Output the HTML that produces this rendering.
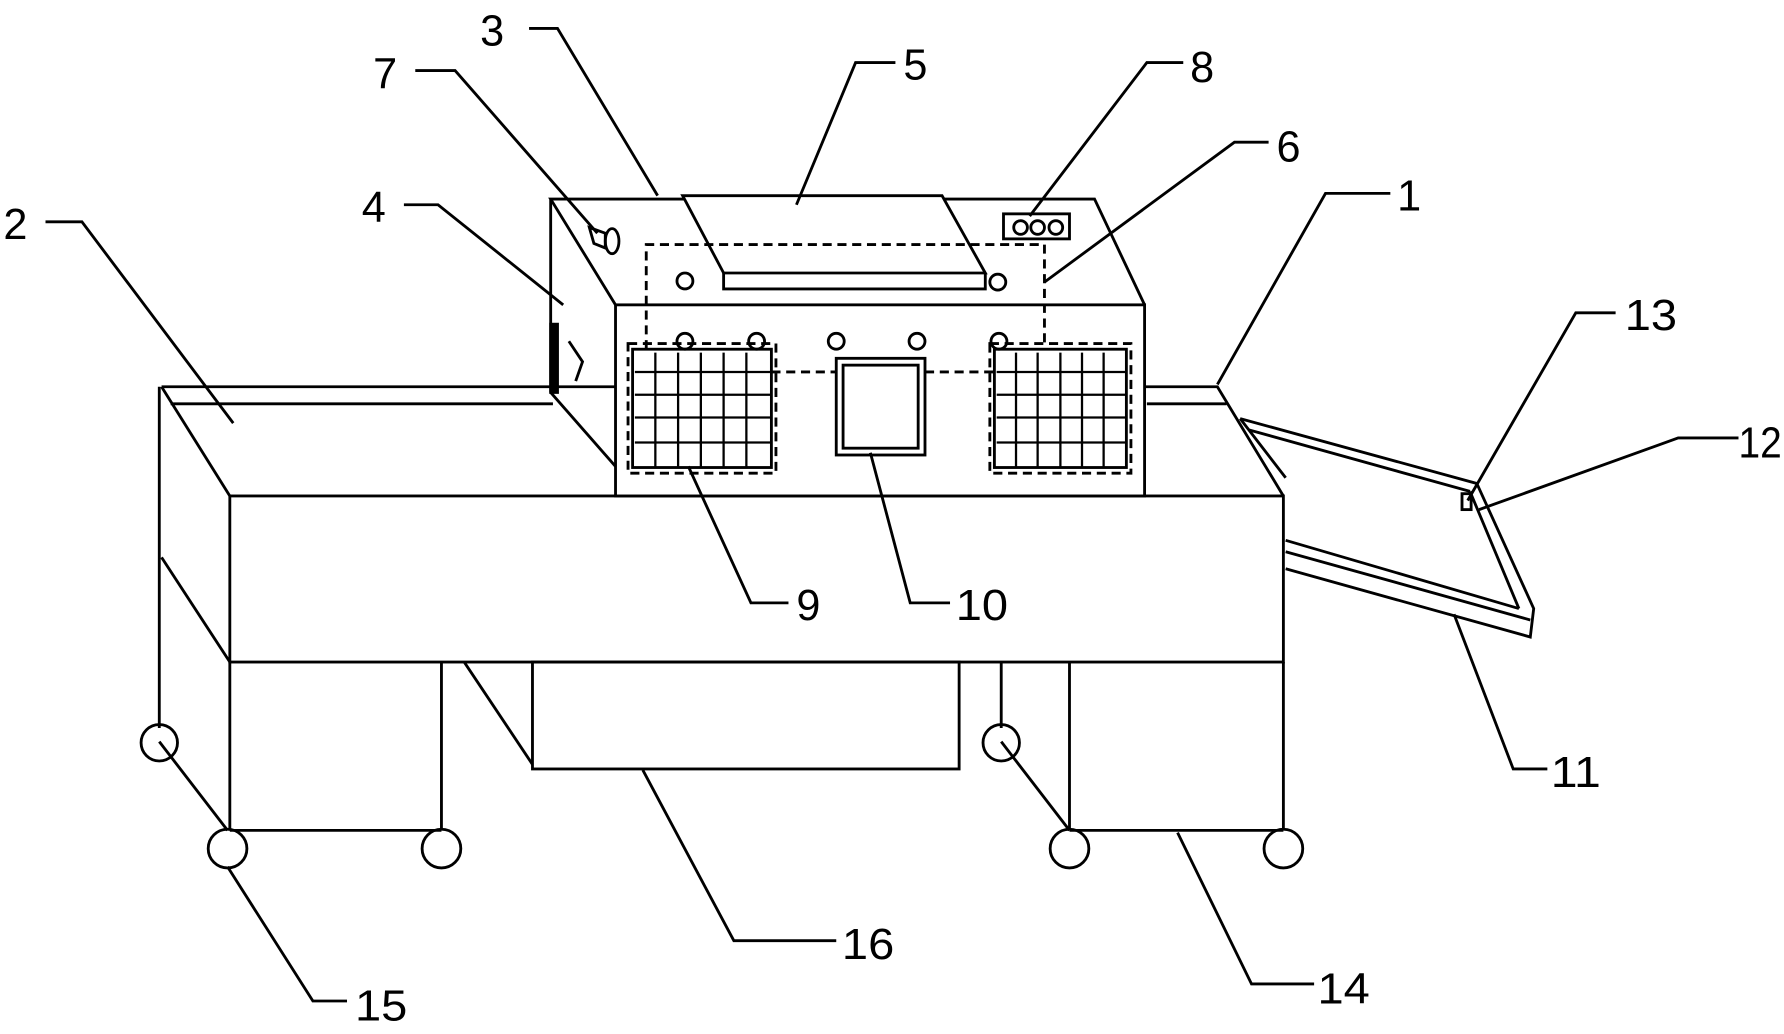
<!DOCTYPE html>
<html><head><meta charset="utf-8"><style>
html,body{margin:0;padding:0;background:#fff;}
svg{display:block;}
text{font-family:"Liberation Sans",sans-serif;font-size:38px;fill:#000;}
</style></head><body>
<svg width="1784" height="1034" viewBox="0 0 1568 909" preserveAspectRatio="none" xmlns="http://www.w3.org/2000/svg">
<g fill="none" stroke="#000" stroke-width="2.5">
<rect x="202" y="436" width="926" height="146"/>
<polyline points="142,340 1070,340 1128,436"/>
<line x1="150" y1="355" x2="486" y2="355"/>
<line x1="1008" y1="355" x2="1078" y2="355"/>
<line x1="142" y1="340" x2="202" y2="436"/>
<line x1="140" y1="340" x2="140" y2="640"/>
<line x1="142" y1="490" x2="202" y2="582"/>
<line x1="202" y1="582" x2="202" y2="730"/>
<line x1="388" y1="582" x2="388" y2="730"/>
<line x1="202" y1="730" x2="388" y2="730"/>
<line x1="940" y1="582" x2="940" y2="730"/>
<line x1="1128" y1="582" x2="1128" y2="730"/>
<line x1="940" y1="730" x2="1128" y2="730"/>
<line x1="880" y1="582" x2="880" y2="640"/>
<line x1="140" y1="652" x2="200" y2="730"/>
<line x1="880" y1="652" x2="940" y2="730"/>
<circle cx="140" cy="653" r="16"/><circle cx="200" cy="746" r="17"/><circle cx="388" cy="746" r="17"/>
<circle cx="880" cy="653" r="16"/><circle cx="940" cy="746" r="17"/><circle cx="1128" cy="746" r="17"/>
<rect x="468" y="582" width="375" height="94"/>
<line x1="408" y1="582" x2="468" y2="672"/>
<rect x="541" y="268" width="465" height="168" fill="#fff"/>
<polyline points="541,268 484,175 962,175 1006,268"/>
<line x1="484" y1="175" x2="484" y2="345"/>
<line x1="484" y1="345" x2="541" y2="410"/>
<rect x="484" y="285" width="6" height="60" fill="#000"/>
<path d="M500 300 L512 318 L506 335" />
<polygon points="600,172 828,172 866,240 636,240" fill="#fff"/>
<polyline points="636,240 636,254 866,254 866,240"/>
<g stroke-dasharray="8,5">
<polyline points="568,307 568,215 918,215 918,307"/>
<line x1="678" y1="327" x2="735" y2="327"/>
<line x1="813" y1="327" x2="874" y2="327"/>
<rect x="552" y="302" width="130" height="114"/>
<rect x="870" y="302" width="124" height="114"/>
</g>
<rect x="556" y="307" width="122" height="104"/>
<rect x="874" y="307" width="116" height="104"/>
<g stroke-width="2">
<path d="M576 310V411M596 310V411M616 310V411M636 310V411M656 310V411M558 327H678M558 347H678M558 367H678M558 389H678"/>
<path d="M893 310V411M912 310V411M932 310V411M951 310V411M970 310V411M876 327H990M876 347H990M876 367H990M876 389H990"/>
</g>
<rect x="735" y="315" width="78" height="85"/>
<rect x="741" y="321" width="66" height="73"/>
<circle cx="602" cy="247" r="7"/><circle cx="877" cy="248" r="7"/>
<circle cx="602" cy="300" r="7"/><circle cx="665" cy="300" r="7"/><circle cx="735" cy="300" r="7"/><circle cx="806" cy="300" r="7"/><circle cx="878" cy="300" r="7"/>
<rect x="882" y="188" width="58" height="22"/>
<circle cx="897" cy="200" r="6"/><circle cx="912" cy="200" r="6"/><circle cx="928" cy="200" r="6"/>
<ellipse cx="538" cy="212" rx="6" ry="11"/>
<path d="M518 200 L532 205 L532 218 L522 214 Z"/>
<polyline points="1090,368 1298,425 1348,535 1345,560 1130,500"/>
<line x1="1090" y1="368" x2="1130" y2="420"/>
<line x1="1098" y1="378" x2="1292" y2="432"/>
<line x1="1292" y1="432" x2="1335" y2="535"/>
<line x1="1130" y1="475" x2="1335" y2="535"/>
<line x1="1130" y1="485" x2="1345" y2="545"/>
<rect x="1285" y="434" width="8" height="14"/>
<polyline points="465,25 490,25 578,172"/>
<polyline points="365,62 400,62 525,205"/>
<polyline points="787,55 752,55 700,180"/>
<polyline points="1040,55 1008,55 905,190"/>
<polyline points="1115,125 1085,125 918,248"/>
<polyline points="1222,170 1165,170 1070,338"/>
<polyline points="40,195 72,195 205,372"/>
<polyline points="355,180 385,180 495,268"/>
<polyline points="1420,275 1385,275 1290,440"/>
<polyline points="1528,385 1475,385 1300,448"/>
<polyline points="1360,676 1330,676 1278,540"/>
<polyline points="693,530 660,530 605,410"/>
<polyline points="835,530 800,530 765,398"/>
<polyline points="735,827 645,827 565,677"/>
<polyline points="305,880 275,880 200,762"/>
<polyline points="1155,865 1100,865 1035,732"/>
</g>
<text x="422" y="40">3</text>
<text x="328" y="78">7</text>
<text x="794" y="70">5</text>
<text x="1046" y="72">8</text>
<text x="1122" y="142">6</text>
<text x="1228" y="185">1</text>
<text x="3" y="210">2</text>
<text x="318" y="195">4</text>
<text x="1428" y="290" textLength="46" lengthAdjust="spacingAndGlyphs">13</text>
<text x="1528" y="402" textLength="38" lengthAdjust="spacingAndGlyphs">12</text>
<text x="1363" y="692" textLength="44" lengthAdjust="spacingAndGlyphs">11</text>
<text x="700" y="545">9</text>
<text x="840" y="545" textLength="46" lengthAdjust="spacingAndGlyphs">10</text>
<text x="740" y="843" textLength="46" lengthAdjust="spacingAndGlyphs">16</text>
<text x="312" y="897" textLength="46" lengthAdjust="spacingAndGlyphs">15</text>
<text x="1158" y="882" textLength="46" lengthAdjust="spacingAndGlyphs">14</text>
</svg>
</body></html>
